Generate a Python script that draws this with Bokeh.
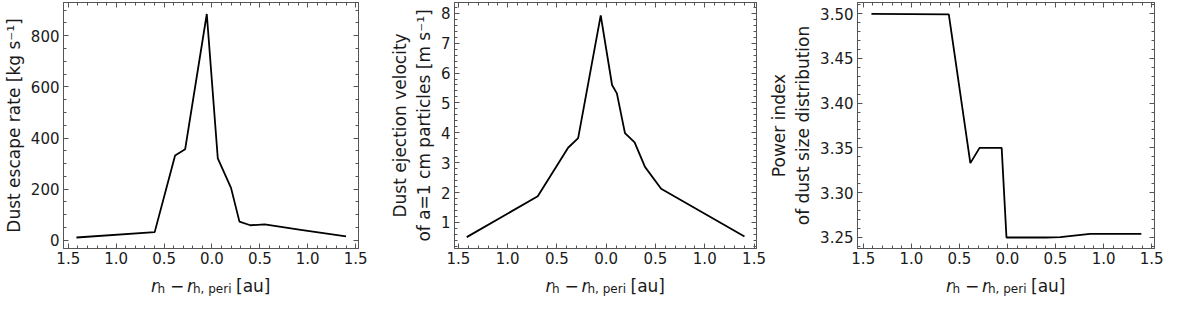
import numpy as np
from bokeh.plotting import figure
from bokeh.layouts import row, column
from bokeh.models import Range1d, FixedTicker, LinearAxis
from bokeh.core.properties import value
from bokeh.embed import file_html
from bokeh.resources import INLINE

# ---------------- data ----------------
x_rate = [-1.415, -0.598, -0.385, -0.280, -0.054, 0.061, 0.199, 0.287, 0.400, 0.550, 0.927, 1.400]
rate = [11, 32, 332, 356, 885, 320, 205, 73, 59, 62, 41, 15]

x_vel = [-1.416, -0.695, -0.387, -0.285, -0.056, 0.059, 0.108, 0.190, 0.288, 0.393, 0.557, 1.403]
vel = [0.51, 1.88, 3.50, 3.82, 7.93, 5.60, 5.32, 3.99, 3.68, 2.86, 2.13, 0.53]

x_idx = [-1.415, -0.610, -0.386, -0.290, -0.060, -0.010, 0.400, 0.550, 0.860, 1.393]
pidx = [3.4995, 3.499, 3.333, 3.350, 3.350, 3.250, 3.250, 3.2505, 3.254, 3.254]

xtick_vals = [-1.5, -1.0, -0.5, 0.0, 0.5, 1.0, 1.5]
xtick_labels = ["1.5", "1.0", "0.5", "0.0", "0.5", "1.0", "1.5"]

ytick1_vals = [0, 200, 400, 600, 800]
ytick1_labels = ["0", "200", "400", "600", "800"]
ytick2_vals = [1, 2, 3, 4, 5, 6, 7, 8]
ytick2_labels = ["1", "2", "3", "4", "5", "6", "7", "8"]
ytick3_vals = [3.25, 3.30, 3.35, 3.40, 3.45, 3.50]
ytick3_labels = ["3.25", "3.30", "3.35", "3.40", "3.45", "3.50"]

ylabel1 = "Dust escape rate [kg s\u207b\u00b9]"
ylabel2 = "Dust ejection velocity\nof a=1 cm particles [m s\u207b\u00b9]"
ylabel3 = "Power index\nof dust size distribution"

# x-axis label pieces: text, x offset from label start (px), baseline drop (px), size, style, align
xlabel_pieces = [
    ("r", 0, 0, "17px", "italic", "left"),
    ("h", 6.5, 3, "12px", "normal", "left"),
    ("\u2212", 26, 0, "17px", "normal", "center"),
    ("r", 36, 0, "17px", "italic", "left"),
    ("h, peri", 42, 3, "12px", "normal", "left"),
    ("[au]", 85, 0, "17px", "normal", "left"),
]
XLABEL_W = 120

# ---------------- styling ----------------
FONT = "DejaVu Sans"
TXT = "#1a1a1a"
AX = "#555555"
TICK_FS = "15px"
LAB_FS = "17px"
H_MAIN = 269
H_LAB = 30
LAB_BASE = 16


def style_axis(ax, show_labels=True):
    ax.axis_line_color = AX
    ax.major_tick_line_color = AX
    ax.minor_tick_line_color = AX
    ax.major_tick_in = 5
    ax.major_tick_out = 0
    ax.minor_tick_in = 3
    ax.minor_tick_out = 0
    ax.major_label_text_font = FONT
    if show_labels:
        ax.major_label_text_color = TXT
        ax.major_label_text_font_size = TICK_FS
        ax.major_label_standoff = 4
    else:
        ax.major_label_text_color = None
        ax.major_label_text_alpha = 0
        ax.major_label_text_font_size = "1px"
        ax.major_label_standoff = 0
        ax.axis_label = None


def make_panel(xs, ys, xr, yr, yt, ytl, ymin_step, ylab, width, bl, br):
    x_range = Range1d(*xr)
    p = figure(width=width, height=H_MAIN, x_range=x_range, y_range=Range1d(*yr),
               output_backend="svg", toolbar_location=None,
               min_border_left=bl, min_border_right=br,
               min_border_top=2, min_border_bottom=21)
    p.title.visible = False
    p.grid.visible = False
    p.outline_line_color = AX
    p.outline_line_width = 1

    xminor = list(np.round(np.arange(-1.6, 1.61, 0.1), 2))
    yminor = list(np.round(np.arange(yt[0] - 10 * ymin_step, yt[-1] + 10 * ymin_step + 1e-9, ymin_step), 4))

    p.xaxis.ticker = FixedTicker(ticks=xtick_vals, minor_ticks=xminor)
    p.xaxis.major_label_overrides = dict(zip(xtick_vals, xtick_labels))
    p.yaxis.ticker = FixedTicker(ticks=yt, minor_ticks=yminor)
    p.yaxis.major_label_overrides = dict(zip(yt, ytl))
    for ax in p.xaxis + p.yaxis:
        style_axis(ax)
    p.xaxis.major_label_standoff = 3

    p.yaxis.axis_label = ylab
    p.yaxis.axis_label_text_font = FONT
    p.yaxis.axis_label_text_font_size = LAB_FS
    p.yaxis.axis_label_text_font_style = "normal"
    p.yaxis.axis_label_text_color = TXT
    p.yaxis.axis_label_standoff = 4

    top = LinearAxis(ticker=FixedTicker(ticks=xtick_vals, minor_ticks=xminor))
    style_axis(top, show_labels=False)
    p.add_layout(top, "above")
    right = LinearAxis(ticker=FixedTicker(ticks=yt, minor_ticks=yminor))
    style_axis(right, show_labels=False)
    p.add_layout(right, "right")

    p.line(xs, ys, line_color="black", line_width=1.8)

    # strip below the panel that carries the x-axis label
    q = figure(width=width, height=H_LAB, x_range=x_range, y_range=Range1d(0, 1),
               output_backend="svg", toolbar_location=None,
               x_axis_type=None, y_axis_type=None,
               min_border_left=bl, min_border_right=br, min_border_top=0, min_border_bottom=0)
    q.title.visible = False
    q.grid.visible = False
    q.outline_line_color = None
    xc = 0.5 * (xr[0] + xr[1])
    for t, xo, drop, fs, st, al in xlabel_pieces:
        q.text(x=[xc], y=[1], text=[t], x_offset=xo - XLABEL_W / 2, y_offset=LAB_BASE + drop,
               text_font=value(FONT), text_font_size=fs, text_font_style=st,
               text_color=TXT, text_align=al, text_baseline="alphabetic")
    return column(p, q, spacing=0)


c1 = make_panel(x_rate, rate, (-1.55, 1.53), (-32, 930), ytick1_vals, ytick1_labels, 50,
                ylabel1, 368, 56, 10)
c2 = make_panel(x_vel, vel, (-1.54, 1.525), (0.13, 8.36), ytick2_vals, ytick2_labels, 0.2,
                ylabel2, 398, 86, 10)
c3 = make_panel(x_idx, pidx, (-1.56, 1.53), (3.2377, 3.5123), ytick3_vals, ytick3_labels, 0.01,
                ylabel3, 402, 84, 14)

layout = row(c1, c2, c3, spacing=0)
open("out.html", "w").write(file_html(layout, INLINE))
